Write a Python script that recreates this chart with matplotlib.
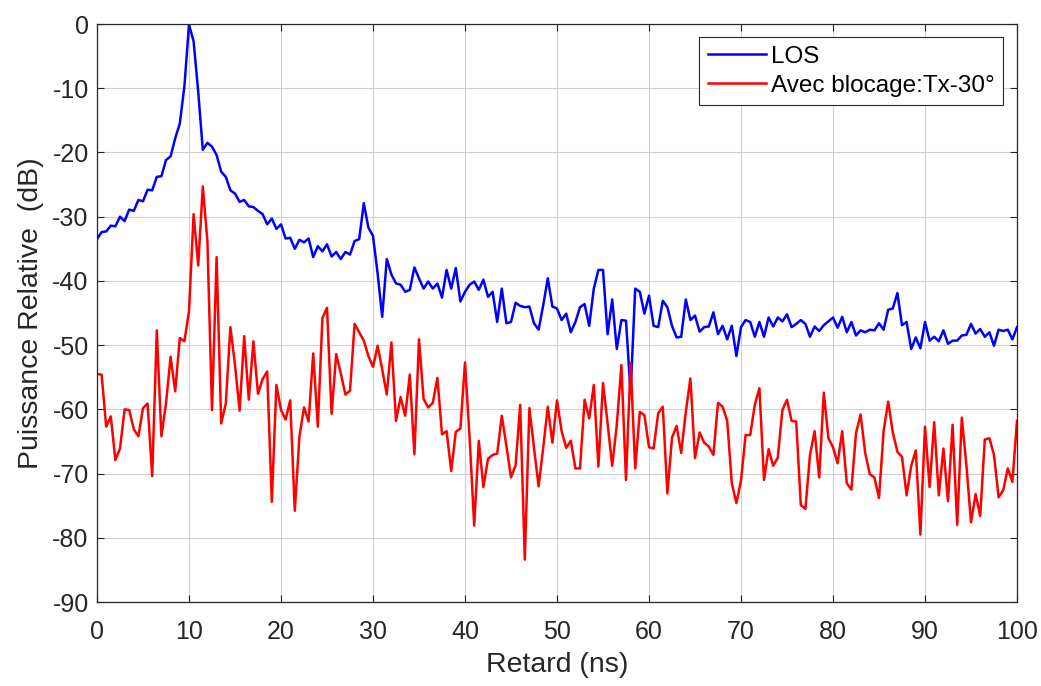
import numpy as np
import matplotlib
matplotlib.use("Agg")
from matplotlib import pyplot as plt

# delay axis, 0.5 ns step
retard = np.arange(0, 100.5, 0.5)

los = [
    -33.5, -32.4, -32.3, -31.4, -31.5, -30.0, -30.7, -28.9, -29.1, -27.4,
    -27.6, -25.8, -25.9, -23.8, -23.7, -21.2, -20.6, -17.8, -15.5, -9.7,
    -0.1, -2.7, -10.5, -19.6, -18.5, -19.1, -20.4, -23.0, -23.8, -25.9,
    -26.4, -27.7, -27.4, -28.4, -28.5, -29.1, -29.6, -31.2, -30.3, -31.9,
    -31.2, -33.4, -33.3, -35.0, -33.6, -34.0, -33.4, -36.3, -34.6, -35.4,
    -34.3, -36.2, -35.5, -36.6, -35.5, -35.9, -33.8, -33.5, -27.9, -31.7,
    -33.0, -38.8, -45.6, -36.6, -39.0, -40.4, -40.6, -41.7, -41.4, -37.9,
    -39.6, -41.2, -40.1, -41.2, -40.4, -42.6, -38.3, -41.2, -38.0, -43.2,
    -41.7, -40.6, -40.1, -41.4, -39.8, -42.5, -41.7, -46.4, -41.2, -46.6,
    -46.4, -43.4, -43.9, -44.1, -44.0, -46.6, -47.6, -43.8, -39.6, -44.0,
    -44.3, -46.1, -45.1, -48.0, -46.4, -44.1, -43.6, -47.0, -41.2, -38.3,
    -38.3, -48.3, -42.9, -50.6, -46.1, -46.2, -57.5, -41.2, -41.7, -45.1,
    -42.3, -47.0, -47.2, -43.1, -44.1, -47.0, -48.8, -48.7, -42.9, -46.1,
    -45.4, -47.9, -47.2, -47.1, -44.9, -48.3, -47.0, -49.1, -47.0, -51.7,
    -47.2, -46.1, -46.4, -48.7, -46.4, -48.7, -45.7, -47.1, -45.7, -46.3,
    -45.2, -47.2, -46.7, -46.1, -46.7, -48.7, -47.1, -47.8, -46.9, -46.3,
    -45.7, -47.3, -45.6, -48.0, -46.4, -48.5, -47.7, -48.0, -47.6, -47.7,
    -46.6, -47.6, -44.5, -44.3, -41.9, -46.9, -46.4, -50.6, -48.8, -50.5,
    -46.4, -49.3, -48.7, -49.4, -47.7, -49.8, -49.3, -49.3, -48.5, -48.4,
    -46.7, -48.2, -47.5, -48.7, -48.0, -50.1, -47.6, -47.8, -47.6, -49.1,
    -47.2,
]

blocage = [
    -54.5, -54.6, -62.7, -61.1, -67.9, -66.1, -60.0, -60.1, -63.1, -64.2,
    -59.8, -59.1, -70.4, -47.7, -64.2, -59.1, -51.8, -57.2, -48.9, -49.4,
    -44.7, -29.6, -37.6, -25.3, -33.8, -60.1, -36.3, -62.2, -59.1, -47.2,
    -53.1, -60.2, -48.6, -58.5, -49.4, -57.6, -55.3, -54.1, -74.4, -56.2,
    -60.1, -61.6, -58.6, -75.8, -64.3, -59.7, -61.9, -51.3, -62.7, -45.8,
    -44.2, -60.7, -51.4, -54.4, -57.7, -57.1, -46.7, -48.0, -49.3, -51.7,
    -53.4, -50.1, -53.8, -57.7, -49.6, -61.8, -58.1, -61.0, -54.6, -67.0,
    -49.1, -58.4, -59.7, -59.0, -55.1, -63.9, -63.4, -69.6, -63.5, -63.0,
    -52.7, -64.4, -78.1, -64.9, -72.1, -67.7, -67.1, -66.9, -61.0, -65.7,
    -70.6, -68.7, -59.3, -83.4, -59.8, -66.0, -72.0, -66.0, -59.6, -65.2,
    -58.6, -63.4, -66.0, -64.9, -69.2, -69.2, -58.5, -61.4, -56.2, -68.9,
    -55.9, -62.2, -68.8, -62.4, -53.1, -71.0, -52.8, -69.2, -60.4, -60.9,
    -65.9, -66.1, -60.6, -59.6, -73.1, -64.4, -62.6, -66.8, -60.4, -55.2,
    -67.6, -63.6, -65.2, -65.8, -67.1, -59.0, -59.6, -61.8, -71.5, -74.6,
    -71.1, -64.0, -64.0, -59.3, -56.7, -71.0, -66.2, -68.8, -67.5, -60.1,
    -58.5, -61.8, -61.9, -74.9, -75.5, -67.1, -63.4, -70.6, -57.4, -64.5,
    -65.9, -68.4, -63.4, -71.5, -72.5, -63.7, -60.8, -66.8, -70.1, -70.6,
    -73.8, -63.4, -58.8, -63.6, -66.6, -67.4, -73.4, -68.8, -66.4, -79.5,
    -62.7, -72.1, -62.0, -73.4, -66.1, -74.3, -62.4, -78.0, -61.3, -68.7,
    -77.6, -73.2, -76.6, -64.7, -64.5, -67.1, -73.7, -72.6, -69.2, -71.3,
    -61.8,
]

plt.rcParams['font.family'] = ['Liberation Sans', 'DejaVu Sans']
plt.rcParams['axes.unicode_minus'] = False

fig = plt.figure(figsize=(10.41, 6.86), dpi=100)
ax = fig.add_axes([97 / 1041, 1 - 602 / 686, 920 / 1041, 578 / 686])

ax.plot(retard, los, color='#0000ff', lw=1.8, label='LOS')
ax.plot(retard, blocage, color='#ff0000', lw=1.8, label='Avec blocage:Tx-30°')

ax.set_xlim(0, 100)
ax.set_ylim(-90, 0)
ax.set_xticks(np.arange(0, 101, 10))
ax.set_yticks(np.arange(-90, 1, 10))
ax.grid(True, color='#d0d0d0', lw=0.8)
ax.tick_params(direction='in', top=True, right=True, labelsize=18,
               colors='#262626', length=5)
ax.tick_params(axis='x', pad=13)
ax.tick_params(axis='y', pad=6)
for s in ax.spines.values():
    s.set_color('#262626')
    s.set_linewidth(0.9)

ax.set_xlabel('Retard (ns)', fontsize=20.5, color='#262626', labelpad=6)
ax.set_ylabel('Puissance Relative  (dB)', fontsize=20.5, color='#262626', labelpad=6)

leg = ax.legend(loc='upper right', fontsize=17.5, fancybox=False, framealpha=1,
                edgecolor='#262626', borderpad=0.35, handlelength=2.4,
                handletextpad=0.2, labelspacing=0.3, borderaxespad=0,
                bbox_to_anchor=(1 - 14 / 920, 1 - 13 / 578))
leg.get_frame().set_linewidth(0.8)

fig.savefig('out.png', dpi=100)
